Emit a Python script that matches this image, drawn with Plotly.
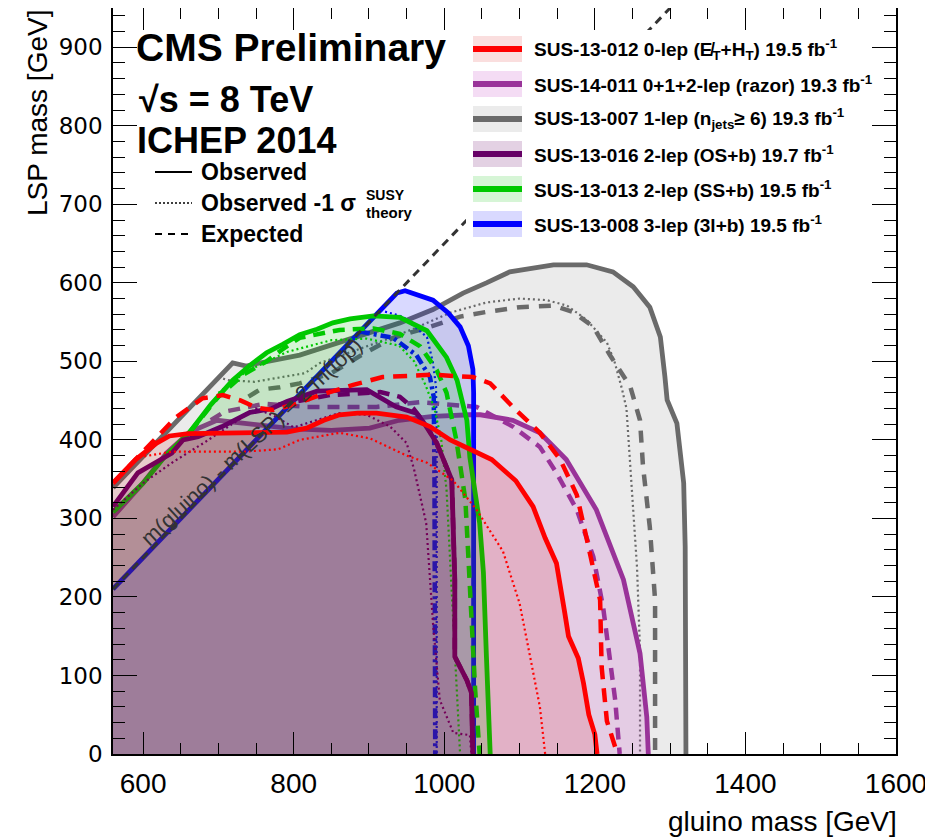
import plotly.graph_objects as go

XMIN, XMAX = 560, 1600
YMIN, YMAX = 0, 950

# kinematic limit m(gluino) - m(LSP) = 2 m(top)
DIAG_X = [560, 1300]
DIAG_Y = [210, 950]

# SUS-13-012 0-lep (red)
RED_OBS_X = [560, 590, 618, 635, 660, 700, 760, 791, 817, 840, 861, 885, 910, 950, 981, 1008, 1030, 1063, 1095, 1118, 1134, 1149, 1160, 1165, 1178, 1185, 1192, 1200, 1203]
RED_OBS_Y = [345, 375, 396, 405, 408, 409, 409, 410, 415, 425, 432, 434, 434, 429, 417, 400, 390, 375, 348, 315, 275, 243, 180, 150, 122, 90, 50, 25, 0]
RED_M1_X = [595, 638, 682, 735, 779, 808, 861, 901, 950, 977, 1012, 1043, 1078, 1100, 1114, 1127, 1134]
RED_M1_Y = [378, 385, 385, 385, 388, 400, 409, 402, 380, 371, 348, 311, 258, 192, 124, 60, 0]
RED_EXP_X = [560, 590, 615, 644, 679, 706, 730, 751, 773, 800, 835, 879, 918, 985, 1038, 1061, 1091, 1127, 1154, 1176, 1189, 1200, 1207, 1209, 1216, 1230]
RED_EXP_Y = [345, 375, 400, 429, 453, 457, 450, 441, 438, 445, 457, 470, 480, 483, 480, 472, 442, 409, 375, 330, 275, 230, 196, 111, 42, 0]

# SUS-14-011 razor (purple)
RZ_OBS_X = [560, 600, 631, 662, 698, 750, 800, 850, 901, 940, 967, 985, 1034, 1048, 1091, 1127, 1162, 1202, 1238, 1260, 1269, 1271]
RZ_OBS_Y = [302, 345, 383, 410, 425, 420, 414, 412, 415, 425, 428, 430, 432, 432, 425, 409, 375, 311, 222, 128, 47, 0]
RZ_EXP_X = [690, 708, 762, 817, 910, 968, 1043, 1091, 1127, 1149, 1176, 1198, 1211, 1220, 1227, 1233]
RZ_EXP_Y = [425, 436, 446, 442, 442, 448, 442, 417, 391, 358, 311, 251, 187, 120, 69, 0]

# SUS-13-007 1-lep (gray)
GR_OBS_X = [560, 640, 719, 737, 750, 808, 897, 941, 985, 1025, 1056, 1087, 1145, 1189, 1224, 1251, 1273, 1287, 1293, 1296, 1309, 1316, 1318, 1320, 1321]
GR_OBS_Y = [339, 418, 498, 494, 497, 508, 536, 549, 566, 587, 600, 614, 623, 623, 614, 595, 569, 531, 481, 451, 421, 370, 345, 264, 0]
GR_M1_X = [700, 713, 748, 815, 835, 932, 963, 1008, 1056, 1100, 1136, 1163, 1189, 1216, 1226, 1236, 1242, 1247, 1252, 1256, 1260, 1260]
GR_M1_Y = [480, 476, 474, 485, 498, 531, 543, 562, 575, 580, 578, 571, 553, 524, 500, 465, 440, 366, 300, 238, 132, 0]
GR_EXP_X = [740, 755, 782, 808, 850, 897, 932, 981, 1021, 1056, 1100, 1145, 1171, 1198, 1220, 1247, 1260, 1264, 1273, 1280, 1280]
GR_EXP_Y = [455, 464, 467, 472, 485, 512, 530, 544, 557, 563, 569, 571, 563, 544, 508, 468, 425, 366, 289, 196, 0]

# SUS-13-016 2-lep OS+b (dark purple)
DP_OBS_X = [560, 593, 638, 653, 673, 705, 742, 771, 791, 831, 897, 936, 963, 972, 990, 1010, 1014, 1014, 1030, 1036, 1038]
DP_OBS_Y = [315, 358, 383, 400, 404, 417, 435, 440, 449, 462, 464, 442, 434, 423, 396, 349, 222, 124, 94, 78, 0]
DP_M1_X = [560, 600, 640, 682, 718, 750, 775, 800, 830, 860, 897, 928, 950, 960, 976, 985, 994, 1012, 1034, 1036]
DP_M1_Y = [311, 345, 372, 397, 420, 440, 430, 416, 425, 434, 432, 417, 396, 362, 294, 167, 69, 27, 24, 0]
DP_EXP_X = [780, 848, 915, 941, 959, 975, 990, 1010, 1014, 1014, 1030, 1036, 1038]
DP_EXP_Y = [445, 457, 461, 455, 440, 420, 396, 349, 222, 124, 94, 78, 0]

# SUS-13-013 2-lep SS+b (green)
GN_OBS_X = [560, 600, 630, 662, 690, 719, 742, 764, 786, 808, 831, 852, 875, 906, 941, 977, 1003, 1017, 1030, 1034, 1047, 1052, 1056, 1061]
GN_OBS_Y = [308, 345, 380, 410, 445, 476, 495, 511, 522, 534, 541, 549, 554, 558, 556, 539, 505, 476, 425, 378, 294, 231, 124, 0]
GN_M1_X = [700, 737, 791, 850, 897, 940, 960, 975, 987, 996, 1003, 1010, 1016, 1021]
GN_M1_Y = [460, 487, 512, 527, 529, 520, 500, 470, 440, 400, 336, 209, 103, 0]
GN_EXP_X = [662, 700, 733, 764, 786, 808, 861, 906, 941, 968, 990, 1003, 1016, 1028, 1032, 1036, 1041, 1047]
GN_EXP_Y = [410, 455, 483, 500, 516, 530, 540, 542, 535, 519, 489, 460, 400, 324, 251, 167, 82, 0]

# SUS-13-008 3-lep (blue)
BL_OBS_X = [560, 937, 948, 985, 1005, 1021, 1032, 1038, 1039, 1039]
BL_OBS_Y = [210, 587, 590, 578, 562, 544, 520, 490, 460, 0]
BL_M1_X = [915, 945, 977, 985, 989, 990, 990]
BL_M1_Y = [565, 557, 531, 498, 468, 400, 0]
BL_EXP_X = [888, 932, 963, 981, 986, 987, 988]
BL_EXP_Y = [538, 530, 508, 480, 455, 350, 0]

LABELS = [
    "SUS-13-012 0-lep (E\u0338<sub>T</sub>+H<sub>T</sub>) 19.5 fb<sup>-1</sup>",
    "SUS-14-011 0+1+2-lep (razor) 19.3 fb<sup>-1</sup>",
    "SUS-13-007 1-lep (n<sub>jets</sub>\u2265 6) 19.3 fb<sup>-1</sup>",
    "SUS-13-016 2-lep (OS+b) 19.7 fb<sup>-1</sup>",
    "SUS-13-013 2-lep (SS+b) 19.5 fb<sup>-1</sup>",
    "SUS-13-008 3-lep (3l+b) 19.5 fb<sup>-1</sup>",
]
LINE_COLORS = ["#ff0000", "#993399", "#6a6a6a", "#660066", "#00c800", "#0000ff"]
FILL_COLORS = ["rgba(220,0,0,0.13)", "rgba(200,80,200,0.20)", "rgba(102,102,102,0.13)",
               "rgba(102,0,102,0.18)", "rgba(0,190,0,0.16)", "rgba(0,0,255,0.15)"]

ANALYSES = [
    (RED_OBS_X, RED_OBS_Y, RED_M1_X, RED_M1_Y, RED_EXP_X, RED_EXP_Y),
    (RZ_OBS_X, RZ_OBS_Y, None, None, RZ_EXP_X, RZ_EXP_Y),
    (GR_OBS_X, GR_OBS_Y, GR_M1_X, GR_M1_Y, GR_EXP_X, GR_EXP_Y),
    (DP_OBS_X, DP_OBS_Y, DP_M1_X, DP_M1_Y, DP_EXP_X, DP_EXP_Y),
    (GN_OBS_X, GN_OBS_Y, GN_M1_X, GN_M1_Y, GN_EXP_X, GN_EXP_Y),
    (BL_OBS_X, BL_OBS_Y, BL_M1_X, BL_M1_Y, BL_EXP_X, BL_EXP_Y),
]
DRAW_ORDER = [2, 1, 5, 4, 3, 0]
EXP_DASH = ["14px,9px", "12px,8px", "12px,10px", "12px,8px", "12px,8px", "10px,4px,3px,4px"]

fig = go.Figure()
for i in DRAW_ORDER:
    ox, oy, mx, my, ex, ey = ANALYSES[i]
    col = LINE_COLORS[i]
    fig.add_trace(go.Scatter(x=ox + [XMIN], y=oy + [YMIN], mode="lines", fill="toself",
                             fillcolor=FILL_COLORS[i], line=dict(width=0), hoverinfo="skip",
                             showlegend=False))
    if mx is not None:
        fig.add_trace(go.Scatter(x=mx, y=my, mode="lines",
                                 line=dict(color=col, width=2.2, dash="2px,3px"),
                                 hoverinfo="skip", showlegend=False))
    fig.add_trace(go.Scatter(x=ex, y=ey, mode="lines",
                             line=dict(color=col, width=4.5, dash=EXP_DASH[i]),
                             hoverinfo="skip", showlegend=False))
    fig.add_trace(go.Scatter(x=ox, y=oy, mode="lines", line=dict(color=col, width=4.8),
                             hoverinfo="skip", showlegend=False))

fig.add_trace(go.Scatter(x=DIAG_X, y=DIAG_Y, mode="lines",
                         line=dict(color="#333333", width=3, dash="8px,6px"),
                         hoverinfo="skip", showlegend=False))

# page body adds an 8px offset; the figure is sized to fill the 933x839 window
W, H = 925, 831
ML, MR, MT, MB = 105, 37, 0, 85
PW, PH = W - ML - MR, H - MT - MB


def px(x):
    return (x - 113) / PW


def py(y):
    return (754 - y) / PH


FONT = "Liberation Sans, Arial, sans-serif"
shapes = []
annots = []

# white legend background
shapes.append(dict(type="rect", xref="paper", yref="paper", x0=px(466), x1=px(872),
                   y0=py(238), y1=py(30), fillcolor="white", line=dict(width=0), layer="above"))

LEG_Y = [49, 84, 119, 154, 189, 224]
for k, lab in enumerate(LABELS):
    yc = LEG_Y[k]
    shapes.append(dict(type="rect", xref="paper", yref="paper", x0=px(473), x1=px(522),
                       y0=py(yc + 13), y1=py(yc - 13), fillcolor=FILL_COLORS[k],
                       line=dict(width=0), layer="above"))
    shapes.append(dict(type="line", xref="paper", yref="paper", x0=px(473), x1=px(522),
                       y0=py(yc), y1=py(yc), line=dict(color=LINE_COLORS[k], width=6),
                       layer="above"))
    annots.append(dict(xref="paper", yref="paper", x=px(532), y=py(yc), xanchor="left",
                       yanchor="middle", text="<b>" + lab + "</b>", showarrow=False,
                       font=dict(family=FONT, size=19, color="black")))

# style legend
STYLE_Y = [172, 203, 234]
STYLE_DASH = ["solid", "2px,2px", "7px,6px"]
STYLE_TXT = ["Observed", "Observed -1 \u03c3", "Expected"]
for k in range(3):
    shapes.append(dict(type="line", xref="paper", yref="paper", x0=px(155), x1=px(192),
                       y0=py(STYLE_Y[k]), y1=py(STYLE_Y[k]),
                       line=dict(color="black", width=1.5 if k == 1 else 2, dash=STYLE_DASH[k]),
                       layer="above"))
    annots.append(dict(xref="paper", yref="paper", x=px(199), y=py(STYLE_Y[k]), xanchor="left",
                       yanchor="middle", text="<b>" + STYLE_TXT[k] + "</b>", showarrow=False,
                       font=dict(family=FONT, size=23, color="black")))
annots.append(dict(xref="paper", yref="paper", x=px(364), y=py(195), xanchor="left",
                   yanchor="middle", text="<b>SUSY</b>", showarrow=False,
                   font=dict(family=FONT, size=14, color="black")))
annots.append(dict(xref="paper", yref="paper", x=px(364), y=py(213), xanchor="left",
                   yanchor="middle", text="<b>theory</b>", showarrow=False,
                   font=dict(family=FONT, size=15, color="black")))

annots.append(dict(xref="paper", yref="paper", x=px(134), y=py(47), xanchor="left",
                   yanchor="middle", text="<b>CMS Preliminary</b>", showarrow=False,
                   font=dict(family=FONT, size=39, color="black")))
annots.append(dict(xref="paper", yref="paper", x=px(137), y=py(100), xanchor="left",
                   yanchor="middle", text="<b>\u221as = 8 TeV</b>", showarrow=False,
                   font=dict(family=FONT, size=36, color="black")))
annots.append(dict(xref="paper", yref="paper", x=px(135), y=py(140), xanchor="left",
                   yanchor="middle", text="<b>ICHEP 2014</b>", showarrow=False,
                   font=dict(family=FONT, size=36, color="black")))

annots.append(dict(x=744, y=398, xref="x", yref="y", text="m(gluino) - m(LSP) = 2 m(top)",
                   textangle=-43, showarrow=False,
                   font=dict(family=FONT, size=22, color="#333333")))

# axis titles
annots.append(dict(xref="paper", yref="paper", x=px(37), y=py(8), xanchor="center",
                   yanchor="top", text="LSP mass [GeV]", textangle=-90, showarrow=False,
                   font=dict(family=FONT, size=28, color="black")))
annots.append(dict(xref="paper", yref="paper", x=px(899), y=py(821), xanchor="right",
                   yanchor="middle", text="gluino mass [GeV]", showarrow=False,
                   font=dict(family=FONT, size=28, color="black")))

fig.update_layout(
    width=W, height=H,
    margin=dict(l=ML, r=MR, t=MT, b=MB, autoexpand=False),
    paper_bgcolor="white", plot_bgcolor="white",
    shapes=shapes, annotations=annots,
    xaxis=dict(range=[XMIN, XMAX], tickmode="array", tickvals=[600, 800, 1000, 1200, 1400, 1600],
               ticks="inside", ticklen=22, tickwidth=1.3, tickcolor="black",
               minor=dict(dtick=50, ticks="inside", ticklen=11, tickwidth=1.3, tickcolor="black"),
               showline=True, linecolor="black", linewidth=1.5, mirror="ticks",
               showgrid=False, zeroline=False, ticklabelstandoff=4,
               tickfont=dict(family=FONT, size=28, color="black")),
    yaxis=dict(range=[YMIN, YMAX], dtick=100, tick0=0,
               ticks="inside", ticklen=24, tickwidth=1.3, tickcolor="black",
               minor=dict(dtick=20, ticks="inside", ticklen=12, tickwidth=1.3, tickcolor="black"),
               showline=True, linecolor="black", linewidth=1.5, mirror="ticks",
               showgrid=False, zeroline=False, ticklabelstandoff=4,
               tickfont=dict(family="DejaVu Sans, Liberation Sans", size=23, color="black")),
)

fig.write_html("out.html")
